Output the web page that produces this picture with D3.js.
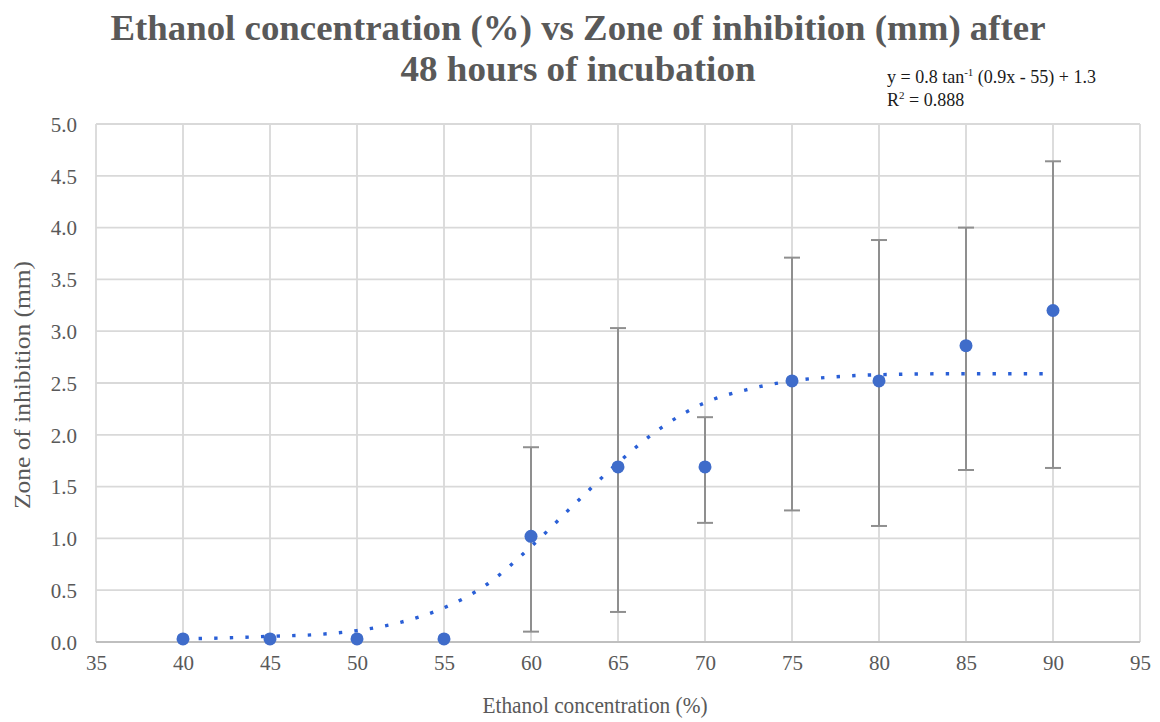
<!DOCTYPE html>
<html>
<head>
<meta charset="utf-8">
<script src="https://cdn.jsdelivr.net/npm/d3@7"></script>
<style>
  body { margin: 0; background: #fff; }
  text { font-family: "Liberation Serif", "Times New Roman", serif; }
</style>
</head>
<body>
<svg id="chart" width="1160" height="722"></svg>
<script>
// measured values
const concentration = [40, 45, 50, 55, 60, 65, 70, 75, 80, 85, 90];
const zone_mean = [0.03, 0.03, 0.03, 0.03, 1.02, 1.69, 1.69, 2.52, 2.52, 2.86, 3.2];
const zone_low = [null, null, null, null, 0.1, 0.29, 1.15, 1.27, 1.12, 1.66, 1.68];
const zone_high = [null, null, null, null, 1.88, 3.03, 2.17, 3.71, 3.88, 4.0, 4.64];

// fitted trendline
const trend_x = [40, 42.5, 45, 47.5, 50, 52.5, 55, 57.5, 60, 62.5, 65, 67.5, 70, 72.5, 75, 77.5, 80, 85, 90];
const trend_y = [0.03, 0.04, 0.055, 0.07, 0.11, 0.19, 0.33, 0.56, 0.92, 1.33, 1.73, 2.07, 2.31, 2.44, 2.52, 2.56, 2.58, 2.59, 2.59];

const x_ticks = [35, 40, 45, 50, 55, 60, 65, 70, 75, 80, 85, 90, 95];
const y_ticks = [0, 0.5, 1, 1.5, 2, 2.5, 3, 3.5, 4, 4.5, 5];

const title_lines = ['Ethanol concentration (%) vs Zone of inhibition (mm) after', '48 hours of incubation'];
const x_title = 'Ethanol concentration (%)';
const y_title = 'Zone of inhibition (mm)';

const svg = d3.select('#chart');
const plot = { left: 96, right: 1140, top: 124, bottom: 642 };

const x = d3.scaleLinear().domain([35, 95]).range([plot.left, plot.right]);
const y = d3.scaleLinear().domain([0, 5]).range([plot.bottom, plot.top]);

const grey_text = '#595959';
const grid_color = '#d9d9d9';

// gridlines
svg.append('g')
  .selectAll('line')
  .data(x_ticks)
  .enter()
  .append('line')
  .attr('x1', (d) => x(d))
  .attr('x2', (d) => x(d))
  .attr('y1', plot.top)
  .attr('y2', plot.bottom)
  .attr('stroke', grid_color)
  .attr('stroke-width', 1.8);

svg.append('g')
  .selectAll('line')
  .data(y_ticks)
  .enter()
  .append('line')
  .attr('x1', plot.left)
  .attr('x2', plot.right)
  .attr('y1', (d) => y(d))
  .attr('y2', (d) => y(d))
  .attr('stroke', grid_color)
  .attr('stroke-width', 1.8);

// axes (labels only, gridlines drawn above)
const x_axis = svg.append('g')
  .attr('transform', `translate(0,${plot.bottom})`)
  .call(d3.axisBottom(x).tickValues(x_ticks).tickSize(0).tickPadding(13).tickFormat(d3.format('d')));
const y_axis = svg.append('g')
  .attr('transform', `translate(${plot.left},0)`)
  .call(d3.axisLeft(y).tickValues(y_ticks).tickSize(0).tickPadding(19).tickFormat(d3.format('.1f')));

[x_axis, y_axis].forEach((a) => {
  a.select('.domain').remove();
  a.selectAll('text')
    .attr('fill', grey_text)
    .style('font-family', '"Liberation Serif", serif')
    .style('font-size', '21px');
});
y_axis.selectAll('text').attr('dy', '0.35em');

// bottom axis line slightly darker
svg.append('line')
  .attr('x1', plot.left).attr('x2', plot.right)
  .attr('y1', plot.bottom).attr('y2', plot.bottom)
  .attr('stroke', '#bfbfbf').attr('stroke-width', 2);

// trendline
const trend = trend_x.map((d, i) => [d, trend_y[i]]);
svg.append('path')
  .datum(trend)
  .attr('d', d3.line().x((d) => x(d[0])).y((d) => y(d[1])).curve(d3.curveMonotoneX))
  .attr('fill', 'none')
  .attr('stroke', '#2a5fd6')
  .attr('stroke-width', 3.4)
  .attr('stroke-dasharray', '3.4 12.2');

// error bars
const bars = concentration
  .map((c, i) => ({ c: c, lo: zone_low[i], hi: zone_high[i] }))
  .filter((d) => d.lo !== null);
const eb = svg.append('g').attr('stroke', '#8f8f8f').attr('stroke-width', 2);
bars.forEach((d) => {
  eb.append('line').attr('x1', x(d.c)).attr('x2', x(d.c)).attr('y1', y(d.lo)).attr('y2', y(d.hi));
  eb.append('line').attr('x1', x(d.c) - 8).attr('x2', x(d.c) + 8).attr('y1', y(d.lo)).attr('y2', y(d.lo));
  eb.append('line').attr('x1', x(d.c) - 8).attr('x2', x(d.c) + 8).attr('y1', y(d.hi)).attr('y2', y(d.hi));
});

// points
svg.append('g')
  .selectAll('circle')
  .data(concentration.map((c, i) => [c, zone_mean[i]]))
  .enter()
  .append('circle')
  .attr('cx', (d) => x(d[0]))
  .attr('cy', (d) => y(d[1]))
  .attr('r', 6.5)
  .attr('fill', '#3f6cca');

// titles
svg.append('text')
  .attr('x', 578).attr('y', 40)
  .attr('text-anchor', 'middle')
  .attr('fill', grey_text)
  .attr('font-weight', 'bold')
  .attr('font-size', 35)
  .attr('textLength', 935)
  .attr('lengthAdjust', 'spacingAndGlyphs')
  .text(title_lines[0]);
svg.append('text')
  .attr('x', 578).attr('y', 81)
  .attr('text-anchor', 'middle')
  .attr('fill', grey_text)
  .attr('font-weight', 'bold')
  .attr('font-size', 35)
  .attr('textLength', 355)
  .attr('lengthAdjust', 'spacingAndGlyphs')
  .text(title_lines[1]);

svg.append('text')
  .attr('x', 595).attr('y', 713)
  .attr('text-anchor', 'middle')
  .attr('fill', grey_text)
  .attr('font-size', 24)
  .attr('textLength', 225)
  .attr('lengthAdjust', 'spacingAndGlyphs')
  .text(x_title);

svg.append('text')
  .attr('transform', `translate(30,${(plot.top + plot.bottom) / 2 + 2}) rotate(-90)`)
  .attr('text-anchor', 'middle')
  .attr('fill', grey_text)
  .attr('font-size', 24)
  .attr('textLength', 248)
  .attr('lengthAdjust', 'spacingAndGlyphs')
  .text(y_title);

// trendline equation
const eq = svg.append('text')
  .attr('x', 887).attr('y', 83)
  .attr('fill', '#1a1a1a')
  .attr('font-size', 18);
eq.append('tspan').text('y = 0.8 tan');
eq.append('tspan').attr('dy', -7).attr('font-size', 11).text('-1');
eq.append('tspan').attr('dy', 7).text(' (0.9x - 55) + 1.3');

const r2 = svg.append('text')
  .attr('x', 887).attr('y', 106)
  .attr('fill', '#1a1a1a')
  .attr('font-size', 18);
r2.append('tspan').text('R');
r2.append('tspan').attr('dy', -7).attr('font-size', 11).text('2');
r2.append('tspan').attr('dy', 7).text(' = 0.888');
</script>
</body>
</html>
